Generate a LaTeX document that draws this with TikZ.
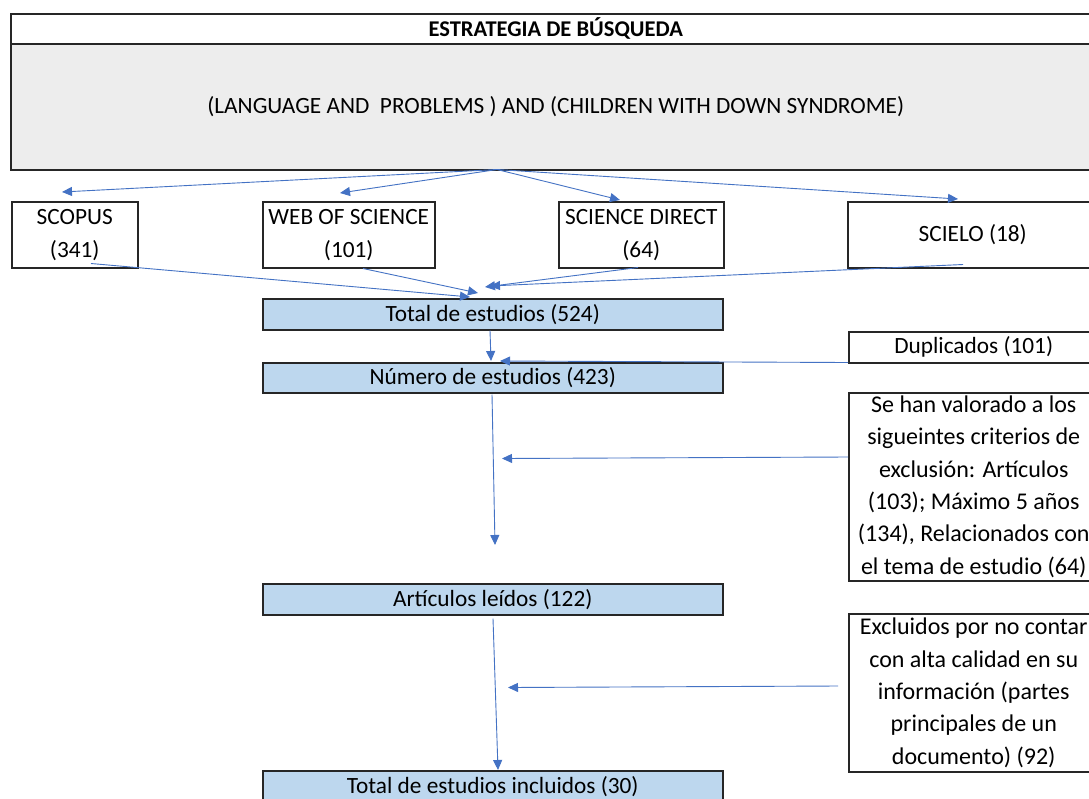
\documentclass[tikz,border=0pt]{standalone}
\usepackage{fontspec}
\setmainfont{Carlito}
\usetikzlibrary{arrows.meta,calc}
\definecolor{arrowblue}{HTML}{4472C4}
\definecolor{boxblue}{HTML}{BDD7EE}
\definecolor{boxgray}{HTML}{EDEDED}
\begin{document}
\begin{tikzpicture}[x=1pt,y=-1pt,
  box/.style={draw=black!85, line width=1.5pt, anchor=north west, inner sep=0pt,
    align=center, font=\fontsize{23.3}{33}\selectfont},
  bluebox/.style={box, fill=boxblue, minimum width=460pt},
  sidebox/.style={box, minimum width=250pt},
  sidetext/.style={font=\fontsize{24}{32.3}\selectfont},
  link/.style={draw=arrowblue, line width=0.9pt, -{Triangle[length=10pt,width=9pt]}}]
\useasboundingbox (0,0) rectangle (1089,798);
\clip (0,0) rectangle (1089,798);
\fill[white] (0,0) rectangle (1089,798);

\node[box, minimum width=1090pt, minimum height=30pt,
  font=\bfseries\fontsize{22.5}{26}\selectfont] (title) at (10,13) {ESTRATEGIA DE BÚSQUEDA};
\node[box, fill=boxgray, minimum width=1090pt, minimum height=126pt] (query) at (10,43)
  {(LANGUAGE AND\ \ PROBLEMS ) AND (CHILDREN WITH DOWN SYNDROME)};

\node[box, minimum width=126pt, minimum height=66pt] (scopus) at (11,201) {SCOPUS\\(341)};
\node[box, minimum width=172pt, minimum height=66pt] (wos) at (262,201) {WEB OF SCIENCE\\(101)};
\node[box, minimum width=165pt, minimum height=66pt] (sd) at (558,201) {SCIENCE DIRECT\\(64)};
\node[sidebox, minimum height=66pt] (scielo) at (847,201) {SCIELO (18)};

\node[bluebox, minimum height=31pt] (total) at (262,298) {Total de estudios (524)};
\node[bluebox, minimum height=30pt] (num) at (262,362) {Número de estudios (423)};
\node[bluebox, minimum height=31pt] (art) at (262,583) {Artículos leídos (122)};
\node[bluebox, minimum height=31pt] (fin) at (262,770) {Total de estudios incluidos (30)};

\node[sidebox, minimum height=31pt] (dup) at (848,331) {Duplicados (101)};
\node[sidebox, sidetext, minimum height=188pt] (crit) at (848,392)
  {Se han valorado a los\\sigueintes criterios de\\exclusión: Artículos\\(103); Máximo 5 años\\(134), Relacionados con\\el tema de estudio (64)};
\node[sidebox, sidetext, minimum height=158pt] (excl) at (848,613)
  {Excluidos por no contar\\con alta calidad en su\\información (partes\\principales de un\\documento) (92)};

\coordinate (hub) at ($(query.south west)+(487,-1)$);
\draw[link] (hub) -- ($(scopus.north west)+(51,-9)$);
\draw[link] (hub) -- ($(wos.north west)+(78,-8)$);
\draw[link] (hub) -- ($(sd.north west)+(62,-1)$);
\draw[link] (hub) -- ($(scielo.north west)+(111,-2)$);

\draw[link] ($(scopus.south west)+(80,-5)$) -- ($(total.north west)+(208,-1)$);
\draw[link] ($(wos.south west)+(101,0)$) -- ($(total.north west)+(216,-5)$);
\draw[link] ($(sd.south west)+(80,-1)$) -- ($(total.north west)+(223,-11)$);
\draw[link] ($(scielo.south west)+(116,-4)$) -- ($(total.north west)+(228,-12)$);

\draw[link] ($(total.south west)+(228,0)$) -- ($(num.north west)+(229,-1)$);
\draw[link] ($(dup.south west)+(0,-1)$) -- ($(num.north west)+(238,-1)$);

\coordinate (numend) at ($(art.north west)+(233,-38)$);
\draw[link] ($(num.south west)+(230,1)$) -- (numend);
\draw[link] ($(crit.north west)+(0,65)$) -- ($(num.south west)+(240,65)$);

\draw[link] ($(art.south west)+(231,3)$) -- ($(fin.north west)+(236,0)$);
\draw[link] ($(excl.north west)+(-10,73)$) -- ($(art.south west)+(246,72)$);
\end{tikzpicture}
\end{document}
